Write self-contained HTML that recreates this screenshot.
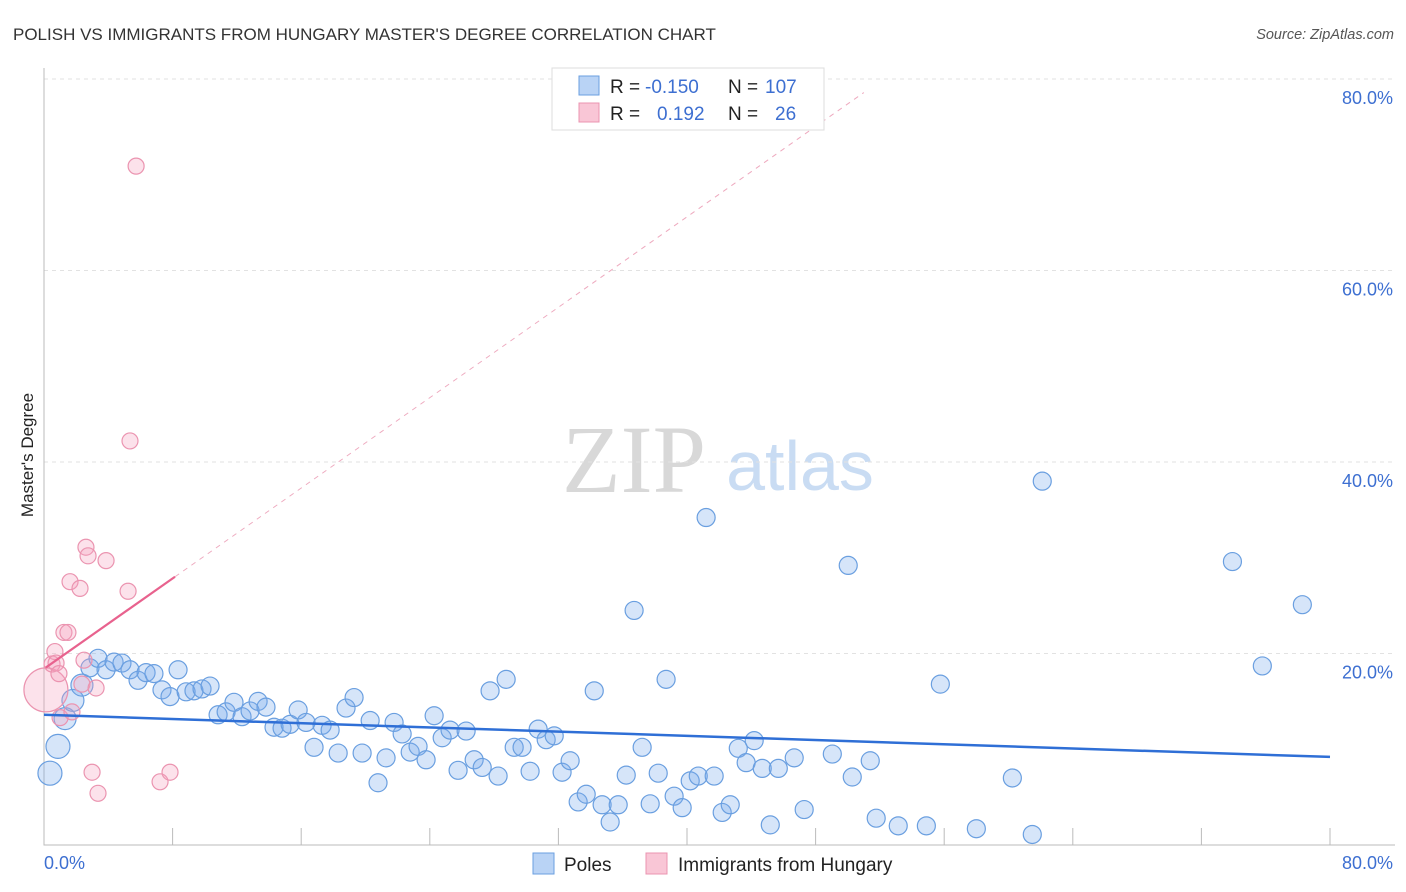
<!DOCTYPE html>
<html><head><meta charset="utf-8"><style>
body{margin:0;background:#fff;font-family:"Liberation Sans",sans-serif;}
svg{display:block}
</style></head><body>
<svg id="chart" width="1406" height="892">
<text x="13" y="40" font-size="17" fill="#333">POLISH VS IMMIGRANTS FROM HUNGARY MASTER'S DEGREE CORRELATION CHART</text>
<text x="1394" y="39" font-size="14.5" fill="#555" font-style="italic" text-anchor="end">Source: ZipAtlas.com</text>
<text x="634" y="492" font-size="96" fill="#d8d8d8" font-family="Liberation Serif,serif" text-anchor="middle">ZIP</text>
<text x="800" y="490" font-size="70" fill="#c9dcf3" text-anchor="middle">atlas</text>
<text transform="translate(33,455) rotate(-90)" font-size="17" fill="#222" text-anchor="middle">Master's Degree</text>
<g id="grid"></g><g id="marks"></g><g id="lines"></g>
<g>
<rect x="552" y="68" width="272" height="62" fill="#fff" stroke="#ddd"/>
<rect x="579" y="76" width="20" height="19" fill="#b9d3f5" stroke="#6a9fe0"/>
<rect x="579" y="103" width="20" height="19" fill="#f9c6d6" stroke="#eb94b0"/>
<text x="610" y="93" font-size="19" fill="#222">R =</text>
<text x="645" y="93" font-size="19" fill="#3d6fd1">-0.150</text>
<text x="728" y="93" font-size="19" fill="#222">N =</text>
<text x="765" y="93" font-size="19" fill="#3d6fd1">107</text>
<text x="610" y="120" font-size="19" fill="#222">R =</text>
<text x="657" y="120" font-size="19" fill="#3d6fd1">0.192</text>
<text x="728" y="120" font-size="19" fill="#222">N =</text>
<text x="775" y="120" font-size="19" fill="#3d6fd1">26</text>
</g>
<g>
<rect x="533" y="853" width="21" height="21" fill="#b9d3f5" stroke="#6a9fe0"/>
<text x="564" y="871" font-size="19" fill="#222">Poles</text>
<rect x="646" y="853" width="21" height="21" fill="#f9c6d6" stroke="#eb94b0"/>
<text x="678" y="871" font-size="19" fill="#222">Immigrants from Hungary</text>
</g>
</svg>
<script>
const xTicksPct=[0,80];
const yTicks=[20,40,60,80];
const blueX=[0.37,0.87,1.31,1.80,2.36,2.86,3.36,3.86,4.36,4.85,5.35,5.85,6.35,6.84,7.34,7.84,8.34,8.84,9.33,9.83,10.33,10.83,11.33,11.82,12.32,12.82,13.32,13.81,14.31,14.81,15.31,15.81,16.30,16.80,17.30,17.80,18.30,18.79,19.29,19.79,20.29,20.78,21.28,21.78,22.28,22.78,23.27,23.77,24.27,24.77,25.26,25.76,26.26,26.76,27.26,27.75,28.25,28.75,29.25,29.74,30.24,30.74,31.24,31.74,32.23,32.73,33.23,33.73,34.23,34.72,35.22,35.72,36.22,36.71,37.21,37.71,38.21,38.70,39.20,39.70,40.20,40.70,41.19,41.69,42.19,42.69,43.19,43.68,44.18,44.68,45.18,45.68,46.67,47.29,49.04,50.03,50.28,51.40,51.77,53.14,54.89,55.76,58.00,60.24,61.48,62.10,73.93,75.79,78.28];
const blueY=[7.5,10.3,13.2,15.1,16.7,18.5,19.5,18.3,19.1,19.0,18.3,17.2,18.0,17.9,16.2,15.5,18.3,16.0,16.1,16.3,16.6,13.6,13.9,14.9,13.4,14.0,15.0,14.4,12.3,12.2,12.6,14.1,12.8,10.2,12.5,12.0,9.6,14.3,15.4,9.6,13.0,6.5,9.1,12.8,11.6,9.7,10.3,8.9,13.5,11.2,12.0,7.8,11.9,8.9,8.1,16.1,7.2,17.3,10.2,10.2,7.7,12.1,11.0,11.4,7.6,8.8,4.5,5.3,16.1,4.2,2.4,4.2,7.3,24.5,10.2,4.3,7.5,17.3,5.1,3.9,6.7,7.2,34.2,7.2,3.4,4.2,10.1,8.6,10.9,8.0,2.1,8.0,9.1,3.7,9.5,29.2,7.1,8.8,2.8,2.0,2.0,16.8,1.7,7.0,1.1,38.0,29.6,18.7,25.1];
const pinkX=[0.12,0.50,0.68,0.75,0.93,1.00,1.24,1.49,1.62,1.74,2.24,2.36,2.49,2.61,2.74,2.99,3.24,3.36,3.86,5.23,5.35,5.73,7.22,7.84];
const pinkY=[16.2,18.9,20.2,19.0,17.9,13.3,22.2,22.2,27.5,13.9,26.8,16.8,19.3,31.1,30.2,7.6,16.4,5.4,29.7,26.5,42.2,70.9,6.6,7.6];
const blueTrend=[13.6,-0.055]; // intercept, slope
const pinkTrend=[18.4,1.18];
const NS='http://www.w3.org/2000/svg';
const X0=44,X1=1330,Y0=845,PX=(X1-X0)/80,PY=(845-79)/80;
const sx=v=>X0+v*PX, sy=v=>Y0-v*PY;
function mk(tag,at,parent){const e=document.createElementNS(NS,tag);for(const k in at)e.setAttribute(k,at[k]);parent.appendChild(e);return e;}
const grid=document.getElementById('grid'),marks=document.getElementById('marks'),lines=document.getElementById('lines'),svg=document.getElementById('chart');
yTicks.forEach(t=>{
 const g=mk('line',{x1:X0,x2:1395,y1:sy(t),y2:sy(t),stroke:'#e2e2e2','stroke-dasharray':'4,4'},grid);
 
 
 const l=mk('text',{x:1393,y:sy(t)+25,'font-size':18,fill:'#3d6fd1','text-anchor':'end'},svg);
 l.textContent=t.toFixed(1)+'%';
 
 
});
const ax=mk('path',{d:`M${X0},68V${Y0}H1395`,stroke:'#bbb',fill:'none'},grid);


for(let i=1;i<=10;i++){const t=mk('line',{x1:sx(i*8),x2:sx(i*8),y1:828,y2:Y0,stroke:'#bbb'},grid);
 
 }
xTicksPct.forEach((t,i)=>{const l=mk('text',{x:i?1393:44,y:869,'font-size':18,fill:'#3d6fd1','text-anchor':i?'end':'start'},svg);
 l.textContent=t.toFixed(1)+'%';
 
 });
blueX.forEach((x,i)=>{const r=i<2?12:(i<5?11:9);
 const c=mk('circle',{cx:sx(x),cy:sy(blueY[i]),r:r,fill:'rgba(120,170,235,0.3)',stroke:'#6a9fe0','stroke-width':1.2},marks);
 
 });
pinkX.forEach((x,i)=>{const r=i==0?22:8;
 const c=mk('circle',{cx:sx(x),cy:sy(pinkY[i]),r:r,fill:'rgba(245,160,190,0.3)',stroke:'#eb94b0','stroke-width':1.2},marks);
 
 });
const bl=mk('line',{x1:sx(0),y1:sy(blueTrend[0]),x2:sx(80),y2:sy(blueTrend[0]+80*blueTrend[1]),stroke:'#2f6fd6','stroke-width':2.5},lines);


const pe=8.15,pd=51;
const pl=mk('line',{x1:sx(0.1),y1:sy(pinkTrend[0]+0.1*pinkTrend[1]),x2:sx(pe),y2:sy(pinkTrend[0]+pe*pinkTrend[1]),stroke:'#e8628e','stroke-width':2.2},lines);


const pdl=mk('line',{x1:sx(pe),y1:sy(pinkTrend[0]+pe*pinkTrend[1]),x2:sx(pd),y2:sy(pinkTrend[0]+pd*pinkTrend[1]),stroke:'#eeaabf','stroke-width':1,'stroke-dasharray':'5,5'},lines);


</script>
</body></html>
